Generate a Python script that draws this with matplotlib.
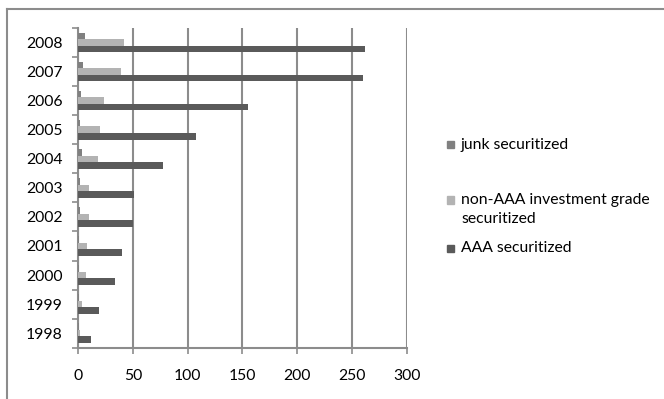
import numpy as np
import matplotlib
matplotlib.use('Agg')
import matplotlib.pyplot as plt
from matplotlib.patches import Rectangle
from matplotlib.lines import Line2D

plt.rcParams['font.family'] = ['Lato', 'DejaVu Sans']

# securitized issuance by rating bucket ($bn)
years = ['1998', '1999', '2000', '2001', '2002', '2003', '2004', '2005', '2006', '2007', '2008']
junk = [0.5, 0.8, 1.0, 1.2, 2.2, 2.2, 3.7, 2.2, 2.8, 4.6, 6.4]
non_aaa = [1.5, 3.4, 7.0, 8.6, 9.8, 9.8, 18.0, 20.0, 23.8, 39.6, 41.8]
aaa = [12.2, 19.5, 34.2, 40.2, 50.2, 51.2, 78.0, 107.5, 154.7, 260.0, 262.0]

series_names = ['junk securitized', 'non-AAA investment grade\nsecuritized', 'AAA securitized']
colors = ['#808080', '#b3b3b3', '#5a5a5a']
grid_col = '#8c8c8c'
fs = 11.3

fig = plt.figure(figsize=(6.64, 3.99), dpi=100)
ax = fig.add_axes([0.1175, 0.1286, 0.495, 0.8012])

y = np.arange(len(years))
h = 0.225
ax.barh(y + h, junk, height=h, color=colors[0], zorder=3)
ax.barh(y, non_aaa, height=h, color=colors[1], zorder=3)
ax.barh(y - h, aaa, height=h, color=colors[2], zorder=3)

ax.set_xlim(0, 300)
ax.set_ylim(-0.5, len(years) - 0.5)
ax.set_xticks(np.arange(0, 301, 50))
ax.xaxis.grid(True, color=grid_col, linewidth=1.5, zorder=0)

# category boundaries get tick marks, labels sit at category centres
ax.set_yticks(np.arange(-0.5, len(years), 1.0))
ax.set_yticklabels([])
ax.set_yticks(y, minor=True)
ax.set_yticklabels(years, minor=True)
ax.tick_params(axis='y', which='major', length=4, width=1.2, color=grid_col)
ax.tick_params(axis='y', which='minor', length=0, pad=11, labelsize=fs)
ax.tick_params(axis='x', length=4, width=1.2, color=grid_col, pad=11.5, labelsize=fs)

for s in ['top', 'right']:
    ax.spines[s].set_visible(False)
for s in ['left', 'bottom']:
    ax.spines[s].set_color(grid_col)
    ax.spines[s].set_linewidth(1.5)

# legend drawn by hand
marker_y = [145, 200, 248]
text_y = [145, 209.5, 248]
for name, col, my, ty in zip(series_names, colors, marker_y, text_y):
    fig.add_artist(Rectangle((446.5 / 664, 1 - (my + 3.5) / 399), 7 / 664, 7 / 399,
                             transform=fig.transFigure, color=col))
    fig.text(461 / 664, 1 - ty / 399, name, fontsize=fs, va='center',
             ha='left', linespacing=1.45)

# chart area border (left and top edges)
fig.add_artist(Line2D([7 / 664, 7 / 664], [0, 1 - 8.5 / 399], transform=fig.transFigure,
                      color=grid_col, linewidth=1.5))
fig.add_artist(Line2D([7 / 664, 1], [1 - 8.5 / 399, 1 - 8.5 / 399], transform=fig.transFigure,
                      color=grid_col, linewidth=1.5))

fig.savefig('out.png', dpi=100)
